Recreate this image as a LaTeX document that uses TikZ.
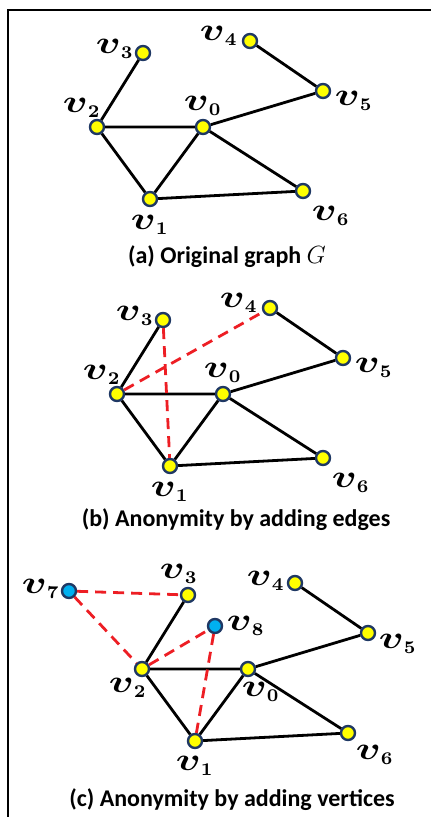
\documentclass[tikz,border=0pt]{standalone}
\usepackage{fontspec}
\usepackage{graphicx}
\usepackage{bm}
\newfontfamily\capfont{Carlito}
\definecolor{navy}{RGB}{31,56,100}
\definecolor{vyellow}{RGB}{255,255,0}
\definecolor{skyblue}{RGB}{0,176,240}
\definecolor{dashred}{RGB}{237,30,36}
% vertex label: wide bold v with bold subscript, scaled up
\newcommand{\vn}[1]{\scalebox{3.2}{$\scalebox{1.3}[1]{$\bm{v}$}_{\scalebox{0.8}{$\scriptstyle\bm{#1}$}}$}}
\tikzset{
  vert/.style={circle, draw=navy, fill=vyellow, line width=2.4pt, minimum size=14pt, inner sep=0pt},
  newvert/.style={vert, fill=skyblue},
  vlab/.style={font=\normalsize, inner sep=0pt},
  link/.style={line width=2.8pt},
  addlink/.style={link, dashred, dash pattern=on 11pt off 7pt},
  capt/.style={font=\capfont\bfseries\fontsize{24}{28}\selectfont, inner sep=0pt},
}
\begin{document}
\begin{tikzpicture}[x=1pt,y=-1pt]
  \useasboundingbox (0,0) rectangle (431,817);
  \draw[line width=2.5pt] (8,817) -- (8,10) -- (431,10);

  % (a) original graph
  \node[vert] (a0) at (203,127) {};
  \node[vert] (a1) at (150,199) {};
  \node[vert] (a2) at (97,127) {};
  \node[vert] (a3) at (143,53) {};
  \node[vert] (a4) at (250,41) {};
  \node[vert] (a5) at (323,91) {};
  \node[vert] (a6) at (303,191) {};
  \node[vlab] (la0) at (203,106) {\vn{0}};
  \node[vlab] (la1) at (150,225) {\vn{1}};
  \node[vlab] (la2) at (82,108) {\vn{2}};
  \node[vlab] (la3) at (115,49) {\vn{3}};
  \node[vlab] (la4) at (219,36) {\vn{4}};
  \node[vlab] (la5) at (354,101) {\vn{5}};
  \node[vlab] (la6) at (331,216) {\vn{6}};
  \draw[link] (a3) -- (a2) (a2) -- (a0) (a2) -- (a1) (a1) -- (a0)
    (a0) -- (a5) (a0) -- (a6) (a1) -- (a6) (a4) -- (a5);
  \node[capt] (capa) at (227,257) {(a) Original graph $G$};

  % (b) adding edges
  \begin{scope}[shift={(20,267)}]
    \node[vert] (b0) at (203,127) {};
    \node[vert] (b1) at (150,199) {};
    \node[vert] (b2) at (97,127) {};
    \node[vert] (b3) at (143,53) {};
    \node[vert] (b4) at (250,41) {};
    \node[vert] (b5) at (323,91) {};
    \node[vert] (b6) at (303,191) {};
    \node[vlab] (lb0) at (203,106) {\vn{0}};
    \node[vlab] (lb1) at (150,225) {\vn{1}};
    \node[vlab] (lb2) at (82,108) {\vn{2}};
    \node[vlab] (lb3) at (115,49) {\vn{3}};
    \node[vlab] (lb4) at (219,36) {\vn{4}};
    \node[vlab] (lb5) at (354,101) {\vn{5}};
    \node[vlab] (lb6) at (331,216) {\vn{6}};
    \draw[link] (b3) -- (b2) (b2) -- (b0) (b2) -- (b1) (b1) -- (b0)
      (b0) -- (b5) (b0) -- (b6) (b1) -- (b6) (b4) -- (b5);
    \draw[addlink] (b2) -- (b4) (b3) -- (b1);
  \end{scope}
  \node[capt] (capb) at (236,520) {(b) Anonymity by adding edges};

  % (c) adding vertices
  \begin{scope}[shift={(45,542)}]
    \node[vert] (c0) at (203,127) {};
    \node[vert] (c1) at (150,199) {};
    \node[vert] (c2) at (97,127) {};
    \node[vert] (c3) at (143,53) {};
    \node[vert] (c4) at (250,41) {};
    \node[vert] (c5) at (323,91) {};
    \node[vert] (c6) at (303,191) {};
    \node[newvert] (c7) at (24,49) {};
    \node[newvert] (c8) at (170,84) {};
    \node[vlab] (lc0) at (216,150) {\vn{0}};
    \node[vlab] (lc1) at (150,224) {\vn{1}};
    \node[vlab] (lc2) at (83,146) {\vn{2}};
    \node[vlab] (lc3) at (134,32) {\vn{3}};
    \node[vlab] (lc4) at (221,39) {\vn{4}};
    \node[vlab] (lc5) at (353,102) {\vn{5}};
    \node[vlab] (lc6) at (330,213) {\vn{6}};
    \node[vlab] (lc7) at (-4,47) {\vn{7}};
    \node[vlab] (lc8) at (201,84) {\vn{8}};
    \draw[link] (c3) -- (c2) (c2) -- (c0) (c2) -- (c1) (c1) -- (c0)
      (c0) -- (c5) (c0) -- (c6) (c1) -- (c6) (c4) -- (c5);
    \draw[addlink] (c7) -- (c3) (c7) -- (c2) (c2) -- (c8) (c8) -- (c1);
  \end{scope}
  \node[capt] (capc) at (232,800) {(c) Anonymity by adding vertices};
\end{tikzpicture}
\end{document}
